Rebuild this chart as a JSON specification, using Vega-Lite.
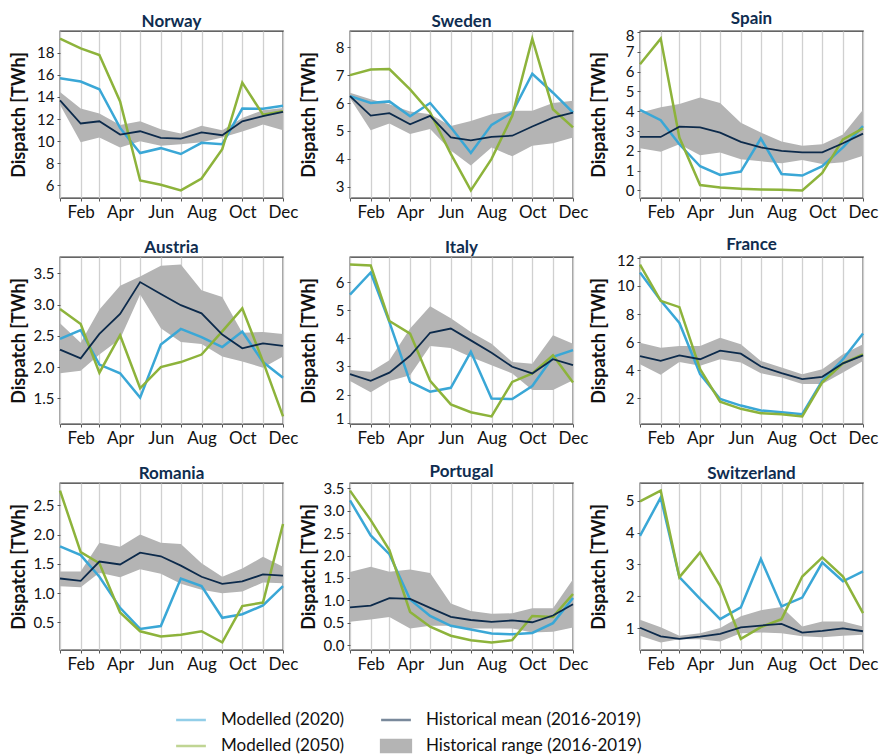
{
  "$schema": "https://vega.github.io/schema/vega-lite/v6.json",
  "padding": {"left": 9, "top": 9, "right": 2, "bottom": 2},
  "config": {
    "font": "Lato",
    "view": {"stroke": "#333333", "strokeWidth": 1.3},
    "axis": {"labelFont": "Lato", "titleFont": "Lato", "labelColor": "#111111", "titleColor": "#111111"}
  },
  "datasets": {
    "rows": [
      {"c":"Norway","d":"2021-01-01","p1":15.7,"p3":19.28,"p2":13.7,"p4":14.45,"lo":13.3},
      {"c":"Norway","d":"2021-02-01","p1":15.4,"p3":18.39,"p2":11.6,"p4":12.96,"lo":9.9},
      {"c":"Norway","d":"2021-03-01","p1":14.7,"p3":17.8,"p2":11.8,"p4":12.5,"lo":10.33},
      {"c":"Norway","d":"2021-04-01","p1":11.2,"p3":13.6,"p2":10.6,"p4":11.46,"lo":9.43},
      {"c":"Norway","d":"2021-05-01","p1":8.93,"p3":6.45,"p2":10.9,"p4":11.8,"lo":10.0},
      {"c":"Norway","d":"2021-06-01","p1":9.37,"p3":6.06,"p2":10.3,"p4":11.07,"lo":9.58},
      {"c":"Norway","d":"2021-07-01","p1":8.84,"p3":5.55,"p2":10.24,"p4":10.7,"lo":9.73},
      {"c":"Norway","d":"2021-08-01","p1":9.85,"p3":6.63,"p2":10.8,"p4":11.4,"lo":9.9},
      {"c":"Norway","d":"2021-09-01","p1":9.73,"p3":9.28,"p2":10.54,"p4":11.0,"lo":10.33},
      {"c":"Norway","d":"2021-10-01","p1":12.95,"p3":15.3,"p2":11.8,"p4":12.1,"lo":10.87},
      {"c":"Norway","d":"2021-11-01","p1":12.93,"p3":12.4,"p2":12.27,"p4":12.8,"lo":11.5},
      {"c":"Norway","d":"2021-12-01","p1":13.2,"p3":12.7,"p2":12.66,"p4":13.0,"lo":11.0},
      {"c":"Sweden","d":"2021-01-01","p1":6.25,"p3":7.0,"p2":6.25,"p4":6.37,"lo":6.17},
      {"c":"Sweden","d":"2021-02-01","p1":6.0,"p3":7.2,"p2":5.55,"p4":6.14,"lo":5.03},
      {"c":"Sweden","d":"2021-03-01","p1":6.06,"p3":7.22,"p2":5.64,"p4":5.96,"lo":5.27},
      {"c":"Sweden","d":"2021-04-01","p1":5.53,"p3":6.49,"p2":5.24,"p4":5.7,"lo":4.89},
      {"c":"Sweden","d":"2021-05-01","p1":6.0,"p3":5.66,"p2":5.54,"p4":5.6,"lo":5.07},
      {"c":"Sweden","d":"2021-06-01","p1":5.13,"p3":4.18,"p2":4.77,"p4":5.18,"lo":4.3},
      {"c":"Sweden","d":"2021-07-01","p1":4.21,"p3":2.87,"p2":4.66,"p4":5.36,"lo":3.76},
      {"c":"Sweden","d":"2021-08-01","p1":5.22,"p3":4.0,"p2":4.79,"p4":5.6,"lo":4.41},
      {"c":"Sweden","d":"2021-09-01","p1":5.66,"p3":5.54,"p2":4.83,"p4":5.72,"lo":4.09},
      {"c":"Sweden","d":"2021-10-01","p1":7.05,"p3":8.31,"p2":5.16,"p4":5.72,"lo":4.47},
      {"c":"Sweden","d":"2021-11-01","p1":6.37,"p3":5.78,"p2":5.48,"p4":6.0,"lo":4.56},
      {"c":"Sweden","d":"2021-12-01","p1":5.66,"p3":5.13,"p2":5.66,"p4":6.08,"lo":4.77},
      {"c":"Spain","d":"2021-01-01","p1":4.07,"p3":6.37,"p2":2.7,"p4":3.92,"lo":2.13},
      {"c":"Spain","d":"2021-02-01","p1":3.55,"p3":7.67,"p2":2.7,"p4":4.2,"lo":1.95},
      {"c":"Spain","d":"2021-03-01","p1":2.33,"p3":2.67,"p2":3.22,"p4":4.37,"lo":2.33},
      {"c":"Spain","d":"2021-04-01","p1":1.22,"p3":0.27,"p2":3.18,"p4":4.7,"lo":1.78},
      {"c":"Spain","d":"2021-05-01","p1":0.78,"p3":0.15,"p2":2.92,"p4":4.42,"lo":1.92},
      {"c":"Spain","d":"2021-06-01","p1":0.95,"p3":0.08,"p2":2.45,"p4":3.42,"lo":1.58},
      {"c":"Spain","d":"2021-07-01","p1":2.62,"p3":0.05,"p2":2.17,"p4":2.92,"lo":1.47},
      {"c":"Spain","d":"2021-08-01","p1":0.83,"p3":0.03,"p2":2.0,"p4":2.47,"lo":1.37},
      {"c":"Spain","d":"2021-09-01","p1":0.75,"p3":0.0,"p2":1.92,"p4":2.25,"lo":1.53},
      {"c":"Spain","d":"2021-10-01","p1":1.22,"p3":0.88,"p2":1.92,"p4":2.33,"lo":1.33},
      {"c":"Spain","d":"2021-11-01","p1":2.17,"p3":2.58,"p2":2.38,"p4":2.83,"lo":1.42},
      {"c":"Spain","d":"2021-12-01","p1":3.25,"p3":3.13,"p2":2.87,"p4":4.08,"lo":1.75},
      {"c":"Austria","d":"2021-01-01","p1":2.45,"p3":2.93,"p2":2.28,"p4":2.7,"lo":1.9},
      {"c":"Austria","d":"2021-02-01","p1":2.59,"p3":2.69,"p2":2.14,"p4":2.39,"lo":1.94},
      {"c":"Austria","d":"2021-03-01","p1":2.04,"p3":1.91,"p2":2.53,"p4":2.92,"lo":2.2},
      {"c":"Austria","d":"2021-04-01","p1":1.9,"p3":2.51,"p2":2.85,"p4":3.3,"lo":2.45},
      {"c":"Austria","d":"2021-05-01","p1":1.51,"p3":1.66,"p2":3.36,"p4":3.45,"lo":3.16},
      {"c":"Austria","d":"2021-06-01","p1":2.36,"p3":2.0,"p2":3.17,"p4":3.62,"lo":2.62},
      {"c":"Austria","d":"2021-07-01","p1":2.61,"p3":2.08,"p2":2.99,"p4":3.64,"lo":2.4},
      {"c":"Austria","d":"2021-08-01","p1":2.48,"p3":2.2,"p2":2.86,"p4":3.23,"lo":2.37},
      {"c":"Austria","d":"2021-09-01","p1":2.32,"p3":2.57,"p2":2.52,"p4":3.12,"lo":2.17},
      {"c":"Austria","d":"2021-10-01","p1":2.57,"p3":2.94,"p2":2.3,"p4":2.55,"lo":2.09},
      {"c":"Austria","d":"2021-11-01","p1":2.08,"p3":2.09,"p2":2.38,"p4":2.56,"lo":1.99},
      {"c":"Austria","d":"2021-12-01","p1":1.83,"p3":1.21,"p2":2.34,"p4":2.53,"lo":2.17},
      {"c":"Italy","d":"2021-01-01","p1":5.56,"p3":6.63,"p2":2.73,"p4":2.87,"lo":2.48},
      {"c":"Italy","d":"2021-02-01","p1":6.35,"p3":6.6,"p2":2.49,"p4":2.81,"lo":2.08},
      {"c":"Italy","d":"2021-03-01","p1":4.58,"p3":4.62,"p2":2.78,"p4":3.22,"lo":2.48},
      {"c":"Italy","d":"2021-04-01","p1":2.45,"p3":4.17,"p2":3.38,"p4":4.35,"lo":2.69},
      {"c":"Italy","d":"2021-05-01","p1":2.1,"p3":2.49,"p2":4.2,"p4":5.15,"lo":3.73},
      {"c":"Italy","d":"2021-06-01","p1":2.24,"p3":1.65,"p2":4.35,"p4":4.72,"lo":3.66},
      {"c":"Italy","d":"2021-07-01","p1":3.52,"p3":1.37,"p2":3.93,"p4":4.23,"lo":3.34},
      {"c":"Italy","d":"2021-08-01","p1":1.86,"p3":1.22,"p2":3.49,"p4":3.81,"lo":3.04},
      {"c":"Italy","d":"2021-09-01","p1":1.84,"p3":2.45,"p2":2.99,"p4":3.16,"lo":2.75},
      {"c":"Italy","d":"2021-10-01","p1":2.3,"p3":2.75,"p2":2.75,"p4":3.1,"lo":2.16},
      {"c":"Italy","d":"2021-11-01","p1":3.34,"p3":3.4,"p2":3.26,"p4":4.11,"lo":2.16},
      {"c":"Italy","d":"2021-12-01","p1":3.58,"p3":2.43,"p2":3.05,"p4":3.81,"lo":2.51},
      {"c":"France","d":"2021-01-01","p1":10.96,"p3":11.52,"p2":5.01,"p4":5.95,"lo":4.42},
      {"c":"France","d":"2021-02-01","p1":8.96,"p3":8.94,"p2":4.66,"p4":5.6,"lo":3.67},
      {"c":"France","d":"2021-03-01","p1":7.36,"p3":8.49,"p2":5.06,"p4":5.72,"lo":4.59},
      {"c":"France","d":"2021-04-01","p1":3.72,"p3":4.07,"p2":4.78,"p4":5.72,"lo":4.31},
      {"c":"France","d":"2021-05-01","p1":1.95,"p3":1.76,"p2":5.39,"p4":6.31,"lo":4.78},
      {"c":"France","d":"2021-06-01","p1":1.48,"p3":1.25,"p2":5.18,"p4":5.84,"lo":4.54},
      {"c":"France","d":"2021-07-01","p1":1.13,"p3":0.94,"p2":4.26,"p4":4.66,"lo":3.79},
      {"c":"France","d":"2021-08-01","p1":1.01,"p3":0.87,"p2":3.79,"p4":4.19,"lo":3.48},
      {"c":"France","d":"2021-09-01","p1":0.87,"p3":0.71,"p2":3.36,"p4":3.72,"lo":3.01},
      {"c":"France","d":"2021-10-01","p1":3.25,"p3":3.13,"p2":3.53,"p4":4.07,"lo":3.01},
      {"c":"France","d":"2021-11-01","p1":4.78,"p3":4.49,"p2":4.49,"p4":5.13,"lo":3.84},
      {"c":"France","d":"2021-12-01","p1":6.61,"p3":5.13,"p2":5.06,"p4":5.84,"lo":4.66},
      {"c":"Romania","d":"2021-01-01","p1":1.8,"p3":2.75,"p2":1.25,"p4":1.37,"lo":1.12},
      {"c":"Romania","d":"2021-02-01","p1":1.65,"p3":1.7,"p2":1.21,"p4":1.37,"lo":1.1},
      {"c":"Romania","d":"2021-03-01","p1":1.28,"p3":1.51,"p2":1.54,"p4":1.86,"lo":1.35},
      {"c":"Romania","d":"2021-04-01","p1":0.75,"p3":0.67,"p2":1.49,"p4":1.79,"lo":1.27},
      {"c":"Romania","d":"2021-05-01","p1":0.39,"p3":0.35,"p2":1.69,"p4":2.0,"lo":1.41},
      {"c":"Romania","d":"2021-06-01","p1":0.44,"p3":0.26,"p2":1.63,"p4":1.86,"lo":1.33},
      {"c":"Romania","d":"2021-07-01","p1":1.25,"p3":0.29,"p2":1.47,"p4":1.84,"lo":1.16},
      {"c":"Romania","d":"2021-08-01","p1":1.12,"p3":0.35,"p2":1.28,"p4":1.51,"lo":1.06},
      {"c":"Romania","d":"2021-09-01","p1":0.58,"p3":0.16,"p2":1.16,"p4":1.28,"lo":1.0},
      {"c":"Romania","d":"2021-10-01","p1":0.64,"p3":0.78,"p2":1.2,"p4":1.42,"lo":1.03},
      {"c":"Romania","d":"2021-11-01","p1":0.79,"p3":0.84,"p2":1.32,"p4":1.62,"lo":1.18},
      {"c":"Romania","d":"2021-12-01","p1":1.12,"p3":2.18,"p2":1.3,"p4":1.45,"lo":1.17},
      {"c":"Portugal","d":"2021-01-01","p1":3.23,"p3":3.45,"p2":0.84,"p4":1.63,"lo":0.52},
      {"c":"Portugal","d":"2021-02-01","p1":2.45,"p3":2.79,"p2":0.88,"p4":1.75,"lo":0.57},
      {"c":"Portugal","d":"2021-03-01","p1":2.03,"p3":2.12,"p2":1.05,"p4":1.64,"lo":0.63},
      {"c":"Portugal","d":"2021-04-01","p1":1.02,"p3":0.74,"p2":1.03,"p4":1.69,"lo":0.37},
      {"c":"Portugal","d":"2021-05-01","p1":0.65,"p3":0.41,"p2":0.83,"p4":1.61,"lo":0.43},
      {"c":"Portugal","d":"2021-06-01","p1":0.43,"p3":0.21,"p2":0.63,"p4":0.93,"lo":0.43},
      {"c":"Portugal","d":"2021-07-01","p1":0.35,"p3":0.11,"p2":0.56,"p4":0.76,"lo":0.37},
      {"c":"Portugal","d":"2021-08-01","p1":0.26,"p3":0.06,"p2":0.52,"p4":0.7,"lo":0.37},
      {"c":"Portugal","d":"2021-09-01","p1":0.24,"p3":0.11,"p2":0.55,"p4":0.71,"lo":0.37},
      {"c":"Portugal","d":"2021-10-01","p1":0.27,"p3":0.65,"p2":0.51,"p4":0.82,"lo":0.28},
      {"c":"Portugal","d":"2021-11-01","p1":0.49,"p3":0.63,"p2":0.66,"p4":0.82,"lo":0.3},
      {"c":"Portugal","d":"2021-12-01","p1":1.05,"p3":1.14,"p2":0.91,"p4":1.47,"lo":0.39},
      {"c":"Switzerland","d":"2021-01-01","p1":3.9,"p3":4.98,"p2":1.01,"p4":1.26,"lo":0.76},
      {"c":"Switzerland","d":"2021-02-01","p1":5.1,"p3":5.32,"p2":0.74,"p4":1.03,"lo":0.55},
      {"c":"Switzerland","d":"2021-03-01","p1":2.6,"p3":2.6,"p2":0.66,"p4":0.76,"lo":0.65},
      {"c":"Switzerland","d":"2021-04-01","p1":1.92,"p3":3.38,"p2":0.73,"p4":0.84,"lo":0.65},
      {"c":"Switzerland","d":"2021-05-01","p1":1.28,"p3":2.33,"p2":0.82,"p4":1.0,"lo":0.58},
      {"c":"Switzerland","d":"2021-06-01","p1":1.65,"p3":0.66,"p2":1.02,"p4":1.37,"lo":0.84},
      {"c":"Switzerland","d":"2021-07-01","p1":3.17,"p3":1.03,"p2":1.08,"p4":1.56,"lo":0.86},
      {"c":"Switzerland","d":"2021-08-01","p1":1.68,"p3":1.28,"p2":1.13,"p4":1.66,"lo":0.84},
      {"c":"Switzerland","d":"2021-09-01","p1":1.96,"p3":2.62,"p2":0.86,"p4":1.05,"lo":0.74},
      {"c":"Switzerland","d":"2021-10-01","p1":3.06,"p3":3.22,"p2":0.91,"p4":1.21,"lo":0.71},
      {"c":"Switzerland","d":"2021-11-01","p1":2.47,"p3":2.62,"p2":0.99,"p4":1.21,"lo":0.76},
      {"c":"Switzerland","d":"2021-12-01","p1":2.78,"p3":1.47,"p2":0.9,"p4":1.05,"lo":0.79}
    ]
  },
  "data": {"name": "rows"},
  "facet": {
    "field": "c",
    "type": "nominal",
    "sort": ["Norway","Sweden","Spain","Austria","Italy","France","Romania","Portugal","Switzerland"],
    "header": {"title": null, "labelFontSize": 17, "labelFontWeight": "bold", "labelColor": "#0f2d50", "labelFont": "Lato", "labelPadding": 0}
  },
  "columns": 3,
  "bounds": "flush",
  "spacing": {"row": 59, "column": 67},
  "resolve": {"scale": {"y": "independent"}, "axis": {"x": "independent", "y": "independent"}},
  "spec": {
    "width": 223,
    "height": 167,
    "encoding": {
      "x": {
        "field": "d", "type": "temporal",
        "scale": {"type": "utc"},
        "axis": {
          "title": null,
          "tickCount": {"interval": "month", "step": 1},
          "labelExpr": "utcmonth(datum.value) % 2 == 1 ? utcFormat(datum.value, '%b') : ''",
          "labelOverlap": false, "labelFlush": false, "labelFontSize": 17, "labelPadding": 3,
          "tickSize": 3, "tickColor": "#555555", "domain": false,
          "grid": true, "gridColor": "#d0d0d0", "gridWidth": 1.3
        }
      }
    },
    "layer": [
      {
        "transform": [{"fold": ["p4"], "as": ["s", "v"]}],
        "mark": {"type": "area", "opacity": 1},
        "encoding": {
          "y": {"field": "lo", "type": "quantitative",
            "scale": {"zero": false, "nice": false, "padding": 7.6},
            "axis": {"title": "Dispatch [TWh]", "tickCount": 7, "grid": false, "domain": false,
              "labelFontSize": 15, "titleFontSize": 18, "titleFontWeight": "bold", "titlePadding": 3,
              "minExtent": 29, "maxExtent": 29, "labelFlush": 3, "labelFlushOffset": 4, "labelOverlap": false,
              "tickSize": 3, "tickColor": "#555555", "labelPadding": 3}},
          "y2": {"field": "p4"},
          "color": {"field": "s", "type": "nominal"}
        }
      },
      {
        "transform": [{"fold": ["p1", "p3"], "as": ["s", "v"]}],
        "mark": {"type": "line", "strokeWidth": 2.5},
        "encoding": {
          "y": {"field": "v", "type": "quantitative"},
          "color": {
            "field": "s", "type": "nominal",
            "scale": {"domain": ["p1", "p2", "p3", "p4"], "range": ["#3aa7d6", "#0c2a4b", "#8db33b", "#b4b4b4"]},
            "legend": {
              "values": ["p1", "p3", "p2", "p4"],
              "orient": "none", "legendX": 121, "legendY": 679,
              "columns": 2, "title": null, "padding": 0, "labelLimit": 400,
              "labelExpr": "datum.label == 'p1' ? 'Modelled (2020)' : datum.label == 'p3' ? 'Modelled (2050)' : datum.label == 'p2' ? 'Historical mean (2016-2019)' : 'Historical range (2016-2019)'",
              "labelFontSize": 17, "labelFont": "Lato", "labelColor": "#111111",
              "symbolType": "M-1.75,0H1.75", "symbolSize": 289, "labelOffset": 20,
              "rowPadding": 7, "columnPadding": 31,
              "encode": {
                "symbols": {
                  "update": {
                    "shape": {"signal": "datum.value == 'p4' ? 'M-1.75,-0.7H1.75V0.7H-1.75Z' : 'M-1.75,0H1.75'"},
                    "fill": {"signal": "datum.value == 'p4' ? '#b4b4b4' : 'transparent'"},
                    "stroke": {"signal": "datum.value == 'p4' ? 'transparent' : scale('color', datum.value)"},
                    "strokeWidth": {"value": 2.5},
                    "opacity": {"signal": "datum.value == 'p4' ? 1 : 0.55"}
                  }
                }
              }
            }
          },
          "detail": {"field": "s"}
        }
      },
      {
        "transform": [{"fold": ["p2"], "as": ["s", "v"]}],
        "mark": {"type": "line", "strokeWidth": 1.8},
        "encoding": {
          "y": {"field": "v", "type": "quantitative"},
          "color": {"field": "s", "type": "nominal"}
        }
      }
    ]
  }
}
